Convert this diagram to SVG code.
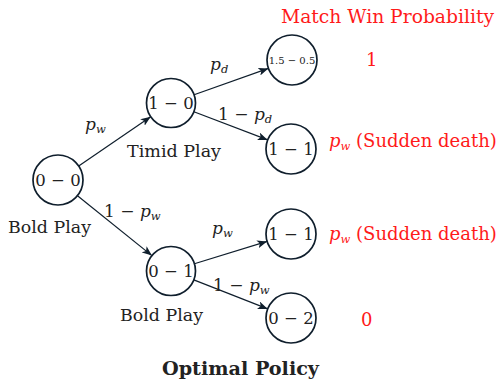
<svg xmlns="http://www.w3.org/2000/svg" width="502" height="380" viewBox="0 0 502 380" font-family="'DejaVu Serif', 'Liberation Serif', serif">
<style>
text{font-family:"DejaVu Serif","Liberation Serif",serif;fill:#222;}
.n circle{fill:#fff;stroke:#0f1e2c;stroke-width:1.7;}
.n text{font-size:16.5px;text-anchor:middle;}
.e line{stroke:#0f1e2c;stroke-width:1.2;marker-end:url(#ah);}
.red{fill:#ff1a1a;font-size:18px;}
.lab{font-size:17px;}
.i{font-style:italic;}
.sub{font-style:italic;font-size:11.5px;}
</style>
<defs>
<marker id="ah" viewBox="0 0 10 8" refX="10" refY="4" markerWidth="10" markerHeight="8" markerUnits="userSpaceOnUse" orient="auto">
<path d="M0,0 L10,4 L0,8 L2.5,4 Z" fill="#0f1e2c"/>
</marker>
</defs>
<g id="connectors" class="e">
<line x1="78.7" y1="165.9" x2="150.7" y2="116.8"/>
<line x1="77.5" y1="195.7" x2="151.9" y2="255.6"/>
<line x1="194.1" y1="94.8" x2="268.4" y2="68.4"/>
<line x1="193.9" y1="111.8" x2="267.7" y2="139.9"/>
<line x1="194.4" y1="263.8" x2="267.1" y2="241.4"/>
<line x1="193.8" y1="279.9" x2="267.7" y2="308.9"/>
</g>
<g id="n00" class="n"><circle cx="58" cy="180" r="25"/><text x="58" y="186">0 − 0</text></g>
<g id="n10" class="n"><circle cx="171" cy="103" r="24.5"/><text x="171" y="109">1 − 0</text></g>
<g id="n01" class="n"><circle cx="171" cy="271" r="24.5"/><text x="171" y="277">0 − 1</text></g>
<g id="n1505" class="n"><circle cx="292" cy="60" r="25"/><text x="292" y="64" style="font-size:10px">1.5 − 0.5</text></g>
<g id="n11a" class="n"><circle cx="291" cy="149" r="25"/><text x="291" y="155">1 − 1</text></g>
<g id="n11b" class="n"><circle cx="291" cy="234" r="25"/><text x="291" y="240">1 − 1</text></g>
<g id="n02" class="n"><circle cx="291" cy="318" r="25"/><text x="291" y="324">0 − 2</text></g>
<g id="labels">
<text class="lab" x="85" y="130"><tspan class="i">p</tspan><tspan class="sub" dy="3">w</tspan></text>
<text class="lab" x="210" y="70"><tspan class="i">p</tspan><tspan class="sub" dy="3">d</tspan></text>
<text class="lab" x="218" y="120">1 − <tspan class="i">p</tspan><tspan class="sub" dy="3">d</tspan></text>
<text class="lab" x="104" y="217">1 − <tspan class="i">p</tspan><tspan class="sub" dy="3">w</tspan></text>
<text class="lab" x="212" y="234"><tspan class="i">p</tspan><tspan class="sub" dy="3">w</tspan></text>
<text class="lab" x="213" y="291">1 − <tspan class="i">p</tspan><tspan class="sub" dy="3">w</tspan></text>
<text class="lab" x="8" y="233" textLength="83" lengthAdjust="spacingAndGlyphs">Bold Play</text>
<text class="lab" x="127" y="157" textLength="94" lengthAdjust="spacingAndGlyphs">Timid Play</text>
<text class="lab" x="120" y="321" textLength="83" lengthAdjust="spacingAndGlyphs">Bold Play</text>
<text class="red" x="281" y="23" textLength="213" lengthAdjust="spacingAndGlyphs">Match Win Probability</text>
<text class="red" x="366" y="66">1</text>
<text class="red" x="329" y="147"><tspan class="i">p</tspan><tspan class="sub" dy="3">w</tspan><tspan dy="-3"> (Sudden death)</tspan></text>
<text class="red" x="329" y="240"><tspan class="i">p</tspan><tspan class="sub" dy="3">w</tspan><tspan dy="-3"> (Sudden death)</tspan></text>
<text class="red" x="361" y="326">0</text>
<text x="162" y="375" textLength="157" lengthAdjust="spacingAndGlyphs" style="font-size:18px;font-weight:bold">Optimal Policy</text>
</g>
</svg>
